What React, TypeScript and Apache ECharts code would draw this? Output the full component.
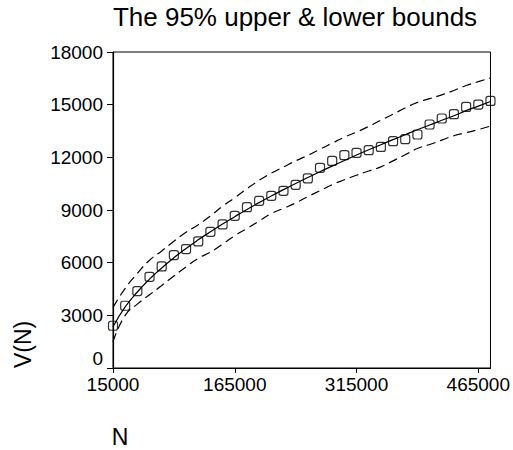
import React, { useEffect, useRef } from "react";
import * as echarts from "echarts";

const titleText = "The 95% upper & lower bounds";
const xName = "N";
const yName = "V(N)";

const nValues = [
  15000, 30000, 45000, 60000, 75000, 90000, 105000, 120000, 135000, 150000,
  165000, 180000, 195000, 210000, 225000, 240000, 255000, 270000, 285000, 300000,
  315000, 330000, 345000, 360000, 375000, 390000, 405000, 420000, 435000, 450000,
  465000, 480000,
];

const observed = [
  2407, 3546, 4382, 5196, 5788, 6431, 6773, 7211, 7758, 8179,
  8668, 9163, 9522, 9807, 10091, 10433, 10797, 11400, 11798, 12123,
  12254, 12407, 12595, 12920, 13034, 13301, 13870, 14212, 14457, 14872,
  15008, 15213,
];

const fitted = [
  2350, 3480, 4330, 5060, 5700, 6280, 6810, 7300, 7760, 8200,
  8620, 9030, 9420, 9800, 10160, 10510, 10850, 11180, 11500, 11820,
  12130, 12430, 12720, 13010, 13290, 13570, 13840, 14110, 14370, 14660,
  14920, 15180,
];

const upper = [
  3450, 4540, 5390, 6140, 6670, 7220, 7730, 8160, 8660, 9220,
  9700, 10210, 10690, 11100, 11450, 11800, 12110, 12460, 12810, 13150,
  13440, 13760, 14110, 14460, 14810, 15130, 15340, 15560, 15810, 16090,
  16310, 16520,
];

const lower = [
  1500, 3000, 3640, 4170, 4700, 5240, 5760, 6250, 6600, 7060,
  7540, 7950, 8370, 8800, 9090, 9400, 9760, 10100, 10440, 10720,
  10980, 11220, 11457, 11800, 12150, 12500, 12730, 12980, 13230, 13400,
  13580, 13780,
];

const xTicks = [15000, 165000, 315000, 465000];
const yTicks = [0, 3000, 6000, 9000, 12000, 15000, 18000];

const FONT = "Liberation Sans, Arial, sans-serif";

export default function App() {
  const ref = useRef<HTMLDivElement>(null);

  useEffect(() => {
    if (!ref.current) return;
    const chart = echarts.init(ref.current, null, { renderer: "svg" });
    const pair = (arr: number[]) => nValues.map((n, i) => [n, arr[i]]);
    const dashed = { color: "#000", width: 1.2, type: [9, 5] as number[] };
    chart.setOption({
      animation: false,
      backgroundColor: "#fff",
      grid: {
        left: 113,
        right: 20,
        top: 52,
        bottom: 82,
        show: true,
        borderColor: "#000",
        borderWidth: 1,
      },
      xAxis: {
        type: "value",
        min: 15000,
        max: 480000,
        splitLine: { show: false },
        axisLine: { lineStyle: { color: "#000", width: 1.2 } },
        axisTick: {
          show: true,
          inside: false,
          length: 5,
          customValues: xTicks,
          lineStyle: { color: "#000" },
        },
        axisLabel: {
          customValues: xTicks,
          margin: 7,
          color: "#000",
          fontSize: 19,
          fontFamily: FONT,
          formatter: (v: number) => String(v),
        },
      },
      yAxis: {
        type: "value",
        min: yTicks[0],
        max: yTicks[yTicks.length - 1],
        interval: 3000,
        splitLine: { show: false },
        axisLine: { show: true, lineStyle: { color: "#000", width: 1.2 } },
        axisTick: { show: true, inside: false, length: 6, lineStyle: { color: "#000" } },
        axisLabel: {
          margin: 10,
          color: "#000",
          fontSize: 19,
          fontFamily: FONT,
          formatter: (v: number) => (v === 0 ? "{z|0}" : String(v)),
          rich: {
            z: {
              fontSize: 19,
              fontFamily: FONT,
              color: "#000",
              padding: [0, 0, 20, 0],
            },
          },
        },
      },
      graphic: [
        {
          type: "text",
          x: 295,
          y: 4,
          style: {
            text: titleText,
            font: `26px ${FONT}`,
            fill: "#000",
            textAlign: "center",
            textVerticalAlign: "top",
          },
        },
        {
          type: "text",
          x: 23,
          y: 368,
          rotation: Math.PI / 2,
          style: {
            text: yName,
            font: `23px ${FONT}`,
            fill: "#000",
            textAlign: "left",
            textVerticalAlign: "middle",
          },
        },
        {
          type: "text",
          x: 120,
          y: 437,
          style: {
            text: xName,
            font: `23px ${FONT}`,
            fill: "#000",
            textAlign: "center",
            textVerticalAlign: "middle",
          },
        },
      ],
      series: [
        {
          type: "line",
          data: pair(upper),
          smooth: true,
          symbol: "none",
          lineStyle: dashed,
        },
        {
          type: "line",
          data: pair(lower),
          smooth: true,
          symbol: "none",
          lineStyle: dashed,
        },
        {
          type: "line",
          data: pair(fitted),
          smooth: true,
          symbol: "none",
          lineStyle: { color: "#000", width: 1.2 },
        },
        {
          type: "scatter",
          data: pair(observed),
          symbol: "roundRect",
          symbolSize: 9,
          itemStyle: { color: "transparent", borderColor: "#000", borderWidth: 1.2 },
        },
      ],
    });
    return () => chart.dispose();
  }, []);

  return (
    <div
      ref={ref}
      style={{ position: "fixed", left: 0, top: 0, width: 513, height: 450 }}
    />
  );
}
